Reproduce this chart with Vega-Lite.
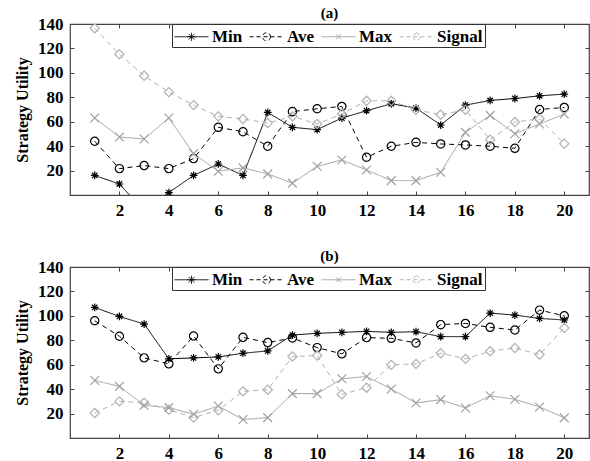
{
  "$schema": "https://vega.github.io/schema/vega-lite/v6.json",
  "padding": {"left": 13, "top": 5, "right": 1, "bottom": 2},
  "spacing": 29,
  "datasets": {
    "pts": [
      {"p":"a","s":"Min","x":1,"y":16},{"p":"a","s":"Min","x":2,"y":9},{"p":"a","s":"Min","x":3,"y":-13},{"p":"a","s":"Min","x":4,"y":2},{"p":"a","s":"Min","x":5,"y":16},{"p":"a","s":"Min","x":6,"y":25.4},{"p":"a","s":"Min","x":7,"y":16},{"p":"a","s":"Min","x":8,"y":67.6},{"p":"a","s":"Min","x":9,"y":55.4},{"p":"a","s":"Min","x":10,"y":53.5},{"p":"a","s":"Min","x":11,"y":63},{"p":"a","s":"Min","x":12,"y":69},{"p":"a","s":"Min","x":13,"y":74.7},{"p":"a","s":"Min","x":14,"y":71.2},{"p":"a","s":"Min","x":15,"y":57.3},{"p":"a","s":"Min","x":16,"y":73.6},{"p":"a","s":"Min","x":17,"y":77.4},{"p":"a","s":"Min","x":18,"y":79},{"p":"a","s":"Min","x":19,"y":81.2},{"p":"a","s":"Min","x":20,"y":82.6},
      {"p":"a","s":"Ave","x":1,"y":44},{"p":"a","s":"Ave","x":2,"y":21.6},{"p":"a","s":"Ave","x":3,"y":24.1},{"p":"a","s":"Ave","x":4,"y":21.6},{"p":"a","s":"Ave","x":5,"y":29.8},{"p":"a","s":"Ave","x":6,"y":55.4},{"p":"a","s":"Ave","x":7,"y":51.8},{"p":"a","s":"Ave","x":8,"y":39.9},{"p":"a","s":"Ave","x":9,"y":68.3},{"p":"a","s":"Ave","x":10,"y":70.6},{"p":"a","s":"Ave","x":11,"y":72.5},{"p":"a","s":"Ave","x":12,"y":30.9},{"p":"a","s":"Ave","x":13,"y":39.9},{"p":"a","s":"Ave","x":14,"y":43.1},{"p":"a","s":"Ave","x":15,"y":41.8},{"p":"a","s":"Ave","x":16,"y":41},{"p":"a","s":"Ave","x":17,"y":39.9},{"p":"a","s":"Ave","x":18,"y":38.2},{"p":"a","s":"Ave","x":19,"y":70},{"p":"a","s":"Ave","x":20,"y":71.7},
      {"p":"a","s":"Max","x":1,"y":63},{"p":"a","s":"Max","x":2,"y":47.5},{"p":"a","s":"Max","x":3,"y":45.8},{"p":"a","s":"Max","x":4,"y":63},{"p":"a","s":"Max","x":5,"y":33.9},{"p":"a","s":"Max","x":6,"y":19.5},{"p":"a","s":"Max","x":7,"y":22.2},{"p":"a","s":"Max","x":8,"y":17.3},{"p":"a","s":"Max","x":9,"y":9.7},{"p":"a","s":"Max","x":10,"y":23.5},{"p":"a","s":"Max","x":11,"y":28.7},{"p":"a","s":"Max","x":12,"y":20.5},{"p":"a","s":"Max","x":13,"y":11.8},{"p":"a","s":"Max","x":14,"y":11.8},{"p":"a","s":"Max","x":15,"y":18.6},{"p":"a","s":"Max","x":16,"y":51.3},{"p":"a","s":"Max","x":17,"y":65.2},{"p":"a","s":"Max","x":18,"y":50.2},{"p":"a","s":"Max","x":19,"y":58.1},{"p":"a","s":"Max","x":20,"y":66.3},
      {"p":"a","s":"Signal","x":1,"y":136.5},{"p":"a","s":"Signal","x":2,"y":115.2},{"p":"a","s":"Signal","x":3,"y":97.6},{"p":"a","s":"Signal","x":4,"y":84.2},{"p":"a","s":"Signal","x":5,"y":73.6},{"p":"a","s":"Signal","x":6,"y":64.4},{"p":"a","s":"Signal","x":7,"y":62.2},{"p":"a","s":"Signal","x":8,"y":58.9},{"p":"a","s":"Signal","x":9,"y":64.4},{"p":"a","s":"Signal","x":10,"y":58.1},{"p":"a","s":"Signal","x":11,"y":66.3},{"p":"a","s":"Signal","x":12,"y":77.1},{"p":"a","s":"Signal","x":13,"y":77.1},{"p":"a","s":"Signal","x":14,"y":69.8},{"p":"a","s":"Signal","x":15,"y":65.7},{"p":"a","s":"Signal","x":16,"y":69.8},{"p":"a","s":"Signal","x":17,"y":45.3},{"p":"a","s":"Signal","x":18,"y":59.7},{"p":"a","s":"Signal","x":19,"y":62.4},{"p":"a","s":"Signal","x":20,"y":42},
      {"p":"b","s":"Min","x":1,"y":106.9},{"p":"b","s":"Min","x":2,"y":99.5},{"p":"b","s":"Min","x":3,"y":93.3},{"p":"b","s":"Min","x":4,"y":64.8},{"p":"b","s":"Min","x":5,"y":65.6},{"p":"b","s":"Min","x":6,"y":66.4},{"p":"b","s":"Min","x":7,"y":69.4},{"p":"b","s":"Min","x":8,"y":71.3},{"p":"b","s":"Min","x":9,"y":84.3},{"p":"b","s":"Min","x":10,"y":85.7},{"p":"b","s":"Min","x":11,"y":86.5},{"p":"b","s":"Min","x":12,"y":87.3},{"p":"b","s":"Min","x":13,"y":86.5},{"p":"b","s":"Min","x":14,"y":87},{"p":"b","s":"Min","x":15,"y":83},{"p":"b","s":"Min","x":16,"y":83},{"p":"b","s":"Min","x":17,"y":102.3},{"p":"b","s":"Min","x":18,"y":100.6},{"p":"b","s":"Min","x":19,"y":97.9},{"p":"b","s":"Min","x":20,"y":96.6},
      {"p":"b","s":"Ave","x":1,"y":96},{"p":"b","s":"Ave","x":2,"y":83.3},{"p":"b","s":"Ave","x":3,"y":65.6},{"p":"b","s":"Ave","x":4,"y":60.7},{"p":"b","s":"Ave","x":5,"y":83.5},{"p":"b","s":"Ave","x":6,"y":56.6},{"p":"b","s":"Ave","x":7,"y":82.4},{"p":"b","s":"Ave","x":8,"y":78.1},{"p":"b","s":"Ave","x":9,"y":81.9},{"p":"b","s":"Ave","x":10,"y":74},{"p":"b","s":"Ave","x":11,"y":68.9},{"p":"b","s":"Ave","x":12,"y":82.2},{"p":"b","s":"Ave","x":13,"y":81.6},{"p":"b","s":"Ave","x":14,"y":77.8},{"p":"b","s":"Ave","x":15,"y":92.8},{"p":"b","s":"Ave","x":16,"y":93.8},{"p":"b","s":"Ave","x":17,"y":90.6},{"p":"b","s":"Ave","x":18,"y":88.4},{"p":"b","s":"Ave","x":19,"y":104.7},{"p":"b","s":"Ave","x":20,"y":100.1},
      {"p":"b","s":"Max","x":1,"y":47.1},{"p":"b","s":"Max","x":2,"y":42.3},{"p":"b","s":"Max","x":3,"y":26.8},{"p":"b","s":"Max","x":4,"y":24.9},{"p":"b","s":"Max","x":5,"y":19.4},{"p":"b","s":"Max","x":6,"y":26.2},{"p":"b","s":"Max","x":7,"y":15.1},{"p":"b","s":"Max","x":8,"y":16.7},{"p":"b","s":"Max","x":9,"y":36.3},{"p":"b","s":"Max","x":10,"y":36.3},{"p":"b","s":"Max","x":11,"y":48.5},{"p":"b","s":"Max","x":12,"y":50.4},{"p":"b","s":"Max","x":13,"y":40.1},{"p":"b","s":"Max","x":14,"y":28.7},{"p":"b","s":"Max","x":15,"y":31.4},{"p":"b","s":"Max","x":16,"y":24.6},{"p":"b","s":"Max","x":17,"y":34.6},{"p":"b","s":"Max","x":18,"y":31.7},{"p":"b","s":"Max","x":19,"y":25.4},{"p":"b","s":"Max","x":20,"y":16.5},
      {"p":"b","s":"Signal","x":1,"y":20.5},{"p":"b","s":"Signal","x":2,"y":30},{"p":"b","s":"Signal","x":3,"y":28.9},{"p":"b","s":"Signal","x":4,"y":23.2},{"p":"b","s":"Signal","x":5,"y":16.7},{"p":"b","s":"Signal","x":6,"y":22.7},{"p":"b","s":"Signal","x":7,"y":38.2},{"p":"b","s":"Signal","x":8,"y":39.5},{"p":"b","s":"Signal","x":9,"y":66.7},{"p":"b","s":"Signal","x":10,"y":67.5},{"p":"b","s":"Signal","x":11,"y":35.7},{"p":"b","s":"Signal","x":12,"y":41.2},{"p":"b","s":"Signal","x":13,"y":59.9},{"p":"b","s":"Signal","x":14,"y":60.7},{"p":"b","s":"Signal","x":15,"y":69.4},{"p":"b","s":"Signal","x":16,"y":64.8},{"p":"b","s":"Signal","x":17,"y":71},{"p":"b","s":"Signal","x":18,"y":73.7},{"p":"b","s":"Signal","x":19,"y":68.3},{"p":"b","s":"Signal","x":20,"y":90}
    ]
  },
  "resolve": {
    "scale": {"color": "independent", "shape": "independent", "strokeDash": "independent", "size": "independent"},
    "legend": {"color": "independent", "shape": "independent", "strokeDash": "independent"}
  },
  "vconcat": [
    {
      "width": 519, "height": 171,
      "title": {"text": "(a)"},
      "data": {"name": "pts"},
      "transform": [{"filter": "datum.p === 'a'"}],
      "resolve": {"axis": {"x": "independent", "y": "independent"}, "scale": {"shape": "independent", "color": "independent", "strokeDash": "independent", "size": "independent"}},
      "layer": [
        {
          "mark": {"type": "line", "clip": true, "strokeWidth": 1},
          "encoding": {
            "x": {"field": "x", "type": "quantitative", "scale": {"domain": [0, 21], "nice": false, "zero": false},
                  "axis": {"orient": "bottom", "title": null, "values": [2,4,6,8,10,12,14,16,18,20], "labelPadding": 11}},
            "y": {"field": "y", "type": "quantitative", "scale": {"domain": [0, 140], "nice": false},
                  "axis": {"orient": "left", "title": "Strategy Utility", "values": [20,40,60,80,100,120,140], "labelPadding": 11, "titlePadding": 7}},
            "color": {"field": "s", "type": "nominal", "legend": null,
                      "scale": {"domain": ["Min","Ave","Max","Signal"], "range": ["#000000","#000000","#a0a0a0","#b0b0b0"]}},
            "strokeDash": {"field": "s", "type": "nominal", "legend": null,
                           "scale": {"domain": ["Min","Ave","Max","Signal"], "range": [[1,0],[5,4],[1,0],[5,4]]}}
          }
        },
        {
          "mark": {"type": "point", "clip": true, "filled": false, "strokeWidth": 1.2, "opacity": 1},
          "encoding": {
            "x": {"field": "x", "type": "quantitative", "scale": {"domain": [0, 21], "nice": false, "zero": false},
                  "axis": {"orient": "top", "title": null, "labels": false, "values": [2,4,6,8,10,12,14,16,18,20]}},
            "y": {"field": "y", "type": "quantitative", "scale": {"domain": [0, 140], "nice": false},
                  "axis": {"orient": "right", "title": null, "labels": false, "values": [20,40,60,80,100,120,140]}},
            "color": {"field": "s", "type": "nominal", "legend": null,
                      "scale": {"domain": ["Min","Ave","Max","Signal"], "range": ["#000000","#000000","#a0a0a0","#b0b0b0"]}},
            "shape": {"field": "s", "type": "nominal", "legend": null,
                      "scale": {"domain": ["Min","Ave","Max","Signal"], "range": ["M-1,0H1M0,-1V1M-0.7,-0.7L0.7,0.7M-0.7,0.7L0.7,-0.7","circle","M-1,-1L1,1M-1,1L1,-1","diamond"]}},
            "size": {"field": "s", "type": "nominal", "legend": null,
                     "scale": {"domain": ["Min","Ave","Max","Signal"], "range": [60, 85, 30, 100]}}
          }
        },
        {
          "transform": [{"filter": "false"}],
          "mark": {"type": "point", "filled": false, "opacity": 1},
          "encoding": {
            "x": {"field": "x", "type": "quantitative", "axis": null},
            "y": {"field": "y", "type": "quantitative", "axis": null},
            "color": {"field": "s", "type": "nominal",
                      "scale": {"domain": ["Min","Ave","Max","Signal"], "range": ["#000000","#000000","#a0a0a0","#b0b0b0"]},
                      "legend": {"orient": "none", "legendX": 102, "legendY": 0, "direction": "horizontal", "columns": 4, "title": null,
                        "strokeColor": "#333333", "fillColor": "white", "padding": 2,
                        "symbolSize": 400, "symbolOffset": 7, "labelOffset": 10, "columnPadding": 4, "symbolStrokeWidth": 1, "symbolFillColor": "transparent",
                        "labelFont": "Liberation Serif, Times New Roman, serif", "labelFontSize": 17, "labelFontWeight": "bold", "labelColor": "black"}},
            "shape": {"field": "s", "type": "nominal",
                      "scale": {"domain": ["Min","Ave","Max","Signal"], "range": ["M-1.7,0L1.7,0M-0.4,0L0.4,0M0,-0.4L0,0.4M-0.28,-0.28L0.28,0.28M-0.28,0.28L0.28,-0.28","M-1.7,0L1.7,0M0.4,0A0.4,0.4 0 1,1 -0.4,0A0.4,0.4 0 1,1 0.4,0","M-1.7,0L1.7,0M-0.25,-0.25L0.25,0.25M-0.25,0.25L0.25,-0.25","M-1.7,0L1.7,0M0,-0.45L0.45,0L0,0.45L-0.45,0Z"]},
                      "legend": {"orient": "none", "legendX": 102, "legendY": 0, "direction": "horizontal", "columns": 4, "title": null,
                        "strokeColor": "#333333", "fillColor": "white", "padding": 2,
                        "symbolSize": 400, "symbolOffset": 7, "labelOffset": 10, "columnPadding": 4, "symbolStrokeWidth": 1, "symbolFillColor": "transparent",
                        "labelFont": "Liberation Serif, Times New Roman, serif", "labelFontSize": 17, "labelFontWeight": "bold", "labelColor": "black"}},
            "strokeDash": {"field": "s", "type": "nominal",
                           "scale": {"domain": ["Min","Ave","Max","Signal"], "range": [[1,0],[4,3],[1,0],[4,3]]},
                           "legend": {"orient": "none", "legendX": 102, "legendY": 0, "direction": "horizontal", "columns": 4, "title": null,
                        "strokeColor": "#333333", "fillColor": "white", "padding": 2,
                        "symbolSize": 400, "symbolOffset": 7, "labelOffset": 10, "columnPadding": 4, "symbolStrokeWidth": 1, "symbolFillColor": "transparent",
                        "labelFont": "Liberation Serif, Times New Roman, serif", "labelFontSize": 17, "labelFontWeight": "bold", "labelColor": "black"}}
          }
        }
      ]
    },
    {
      "width": 519, "height": 171,
      "title": {"text": "(b)"},
      "data": {"name": "pts"},
      "transform": [{"filter": "datum.p === 'b'"}],
      "resolve": {"axis": {"x": "independent", "y": "independent"}, "scale": {"shape": "independent", "color": "independent", "strokeDash": "independent", "size": "independent"}},
      "layer": [
        {
          "mark": {"type": "line", "clip": true, "strokeWidth": 1},
          "encoding": {
            "x": {"field": "x", "type": "quantitative", "scale": {"domain": [0, 21], "nice": false, "zero": false},
                  "axis": {"orient": "bottom", "title": null, "values": [2,4,6,8,10,12,14,16,18,20], "labelPadding": 11}},
            "y": {"field": "y", "type": "quantitative", "scale": {"domain": [0, 140], "nice": false},
                  "axis": {"orient": "left", "title": "Strategy Utility", "values": [20,40,60,80,100,120,140], "labelPadding": 11, "titlePadding": 7}},
            "color": {"field": "s", "type": "nominal", "legend": null,
                      "scale": {"domain": ["Min","Ave","Max","Signal"], "range": ["#000000","#000000","#a0a0a0","#b0b0b0"]}},
            "strokeDash": {"field": "s", "type": "nominal", "legend": null,
                           "scale": {"domain": ["Min","Ave","Max","Signal"], "range": [[1,0],[5,4],[1,0],[5,4]]}}
          }
        },
        {
          "mark": {"type": "point", "clip": true, "filled": false, "strokeWidth": 1.2, "opacity": 1},
          "encoding": {
            "x": {"field": "x", "type": "quantitative", "scale": {"domain": [0, 21], "nice": false, "zero": false},
                  "axis": {"orient": "top", "title": null, "labels": false, "values": [2,4,6,8,10,12,14,16,18,20]}},
            "y": {"field": "y", "type": "quantitative", "scale": {"domain": [0, 140], "nice": false},
                  "axis": {"orient": "right", "title": null, "labels": false, "values": [20,40,60,80,100,120,140]}},
            "color": {"field": "s", "type": "nominal", "legend": null,
                      "scale": {"domain": ["Min","Ave","Max","Signal"], "range": ["#000000","#000000","#a0a0a0","#b0b0b0"]}},
            "shape": {"field": "s", "type": "nominal", "legend": null,
                      "scale": {"domain": ["Min","Ave","Max","Signal"], "range": ["M-1,0H1M0,-1V1M-0.7,-0.7L0.7,0.7M-0.7,0.7L0.7,-0.7","circle","M-1,-1L1,1M-1,1L1,-1","diamond"]}},
            "size": {"field": "s", "type": "nominal", "legend": null,
                     "scale": {"domain": ["Min","Ave","Max","Signal"], "range": [60, 85, 30, 100]}}
          }
        },
        {
          "transform": [{"filter": "false"}],
          "mark": {"type": "point", "filled": false, "opacity": 1},
          "encoding": {
            "x": {"field": "x", "type": "quantitative", "axis": null},
            "y": {"field": "y", "type": "quantitative", "axis": null},
            "color": {"field": "s", "type": "nominal",
                      "scale": {"domain": ["Min","Ave","Max","Signal"], "range": ["#000000","#000000","#a0a0a0","#b0b0b0"]},
                      "legend": {"orient": "none", "legendX": 102, "legendY": 0, "direction": "horizontal", "columns": 4, "title": null,
                        "strokeColor": "#333333", "fillColor": "white", "padding": 2,
                        "symbolSize": 400, "symbolOffset": 7, "labelOffset": 10, "columnPadding": 4, "symbolStrokeWidth": 1, "symbolFillColor": "transparent",
                        "labelFont": "Liberation Serif, Times New Roman, serif", "labelFontSize": 17, "labelFontWeight": "bold", "labelColor": "black"}},
            "shape": {"field": "s", "type": "nominal",
                      "scale": {"domain": ["Min","Ave","Max","Signal"], "range": ["M-1.7,0L1.7,0M-0.4,0L0.4,0M0,-0.4L0,0.4M-0.28,-0.28L0.28,0.28M-0.28,0.28L0.28,-0.28","M-1.7,0L1.7,0M0.4,0A0.4,0.4 0 1,1 -0.4,0A0.4,0.4 0 1,1 0.4,0","M-1.7,0L1.7,0M-0.25,-0.25L0.25,0.25M-0.25,0.25L0.25,-0.25","M-1.7,0L1.7,0M0,-0.45L0.45,0L0,0.45L-0.45,0Z"]},
                      "legend": {"orient": "none", "legendX": 102, "legendY": 0, "direction": "horizontal", "columns": 4, "title": null,
                        "strokeColor": "#333333", "fillColor": "white", "padding": 2,
                        "symbolSize": 400, "symbolOffset": 7, "labelOffset": 10, "columnPadding": 4, "symbolStrokeWidth": 1, "symbolFillColor": "transparent",
                        "labelFont": "Liberation Serif, Times New Roman, serif", "labelFontSize": 17, "labelFontWeight": "bold", "labelColor": "black"}},
            "strokeDash": {"field": "s", "type": "nominal",
                           "scale": {"domain": ["Min","Ave","Max","Signal"], "range": [[1,0],[4,3],[1,0],[4,3]]},
                           "legend": {"orient": "none", "legendX": 102, "legendY": 0, "direction": "horizontal", "columns": 4, "title": null,
                        "strokeColor": "#333333", "fillColor": "white", "padding": 2,
                        "symbolSize": 400, "symbolOffset": 7, "labelOffset": 10, "columnPadding": 4, "symbolStrokeWidth": 1, "symbolFillColor": "transparent",
                        "labelFont": "Liberation Serif, Times New Roman, serif", "labelFontSize": 17, "labelFontWeight": "bold", "labelColor": "black"}}
          }
        }
      ]
    }
  ],
  "config": {
    "background": "white",
    "font": "Liberation Serif, Times New Roman, serif",
    "view": {"stroke": "#444444", "strokeWidth": 1.2},
    "axis": {"grid": false, "domain": false, "ticks": true, "tickColor": "#444444", "tickSize": -4, "minExtent": 0,
             "labelFont": "Liberation Serif, Times New Roman, serif", "labelFontSize": 17, "labelFontWeight": "bold", "labelColor": "#000000",
             "titleFont": "Liberation Serif, Times New Roman, serif", "titleFontSize": 16, "titleFontWeight": "bold", "titleColor": "#000000"},
    "title": {"font": "Liberation Serif, Times New Roman, serif", "fontSize": 15, "fontWeight": "bold", "color": "#000000", "offset": -6}
  }
}
